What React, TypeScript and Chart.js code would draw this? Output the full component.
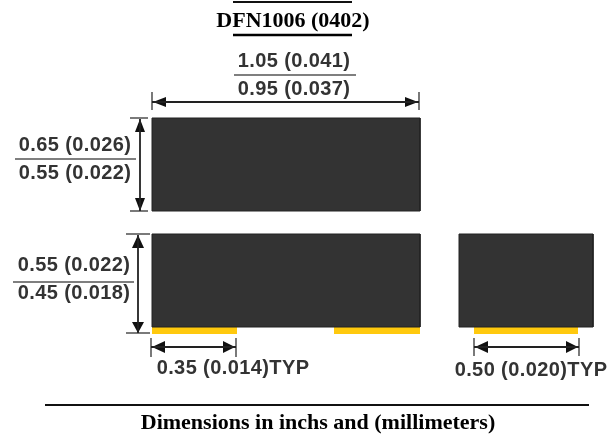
import React, { useEffect, useRef } from "react";
import { Chart, registerables } from "chart.js";

Chart.register(...registerables);

// Outline drawing, all values in drawing units (x to the right, y downwards)
type P = [number, number];
const bodies: P[][] = [
  [[152, 118], [420, 118], [420, 211], [152, 211]],
  [[152, 234], [420, 234], [420, 327], [152, 327]],
  [[459, 234], [593, 234], [593, 327], [459, 327]],
];
const pads: P[][] = [
  [[152, 327], [237, 327], [237, 334], [152, 334]],
  [[334, 327], [420, 327], [420, 334], [334, 334]],
  [[474, 326], [578, 326], [578, 334], [474, 334]],
];
const rules: P[][] = [
  [[233, 2], [352, 2]],
  [[45, 405], [589, 405]],
];
const thickRule: P[][] = [[[233, 35], [352, 35]]];
const fractionBars: P[][] = [
  [[234, 75], [356, 75]],
  [[15, 159], [136, 159]],
  [[13, 282], [134, 282]],
];
const dimLines: P[][] = [
  [[152, 102], [419, 102]],
  [[140, 119], [140, 211]],
  [[138, 235], [138, 333]],
  [[151, 347], [236, 347]],
  [[474, 347], [579, 347]],
];
const extLines: P[][] = [
  [[152, 92], [152, 110]],
  [[419, 92], [419, 110]],
  [[130, 118], [148, 118]],
  [[130, 211], [148, 211]],
  [[126, 234], [150, 234]],
  [[126, 333], [150, 333]],
  [[151, 338], [151, 357]],
  [[236, 338], [236, 357]],
  [[474, 338], [474, 356]],
  [[579, 338], [579, 356]],
];
const heads: P[][] = [
  [[153, 102], [166, 97], [166, 107]],
  [[418, 102], [405, 97], [405, 107]],
  [[140, 119], [135, 132], [145, 132]],
  [[140, 211], [135, 198], [145, 198]],
  [[138, 235], [132, 248], [144, 248]],
  [[138, 333], [132, 322], [144, 322]],
  [[152, 347], [165, 341], [165, 353]],
  [[235, 347], [223, 341], [223, 353]],
  [[475, 347], [488, 341], [488, 353]],
  [[578, 347], [566, 341], [566, 353]],
];

const dimTexts: [string, number, number][] = [
  ["1.05 (0.041)", 294, 61],
  ["0.95 (0.037)", 294, 89],
  ["0.65 (0.026)", 75, 145],
  ["0.55 (0.022)", 75, 173],
  ["0.55 (0.022)", 74, 265],
  ["0.45 (0.018)", 74, 293],
  ["0.35 (0.014)TYP", 233, 368],
  ["0.50 (0.020)TYP", 531, 370],
];
const captions: [string, number, number, number][] = [
  ["DFN1006 (0402)", 293, 21, 22],
  ["Dimensions in inchs and (millimeters)", 318, 423, 22],
];

const toPts = (s: P[]) => s.map(([x, y]) => ({ x, y }));
const shape = (s: P[], color: string, border = color, bw = 0) => ({
  data: toPts([...s, s[0]]),
  showLine: true,
  fill: "shape",
  backgroundColor: color,
  borderColor: border,
  borderWidth: bw,
  borderJoinStyle: "miter",
  pointRadius: 0,
  tension: 0,
});
const line = (s: P[], color: string, w: number) => ({
  data: toPts(s),
  showLine: true,
  fill: false,
  borderColor: color,
  borderWidth: w,
  pointRadius: 0,
  tension: 0,
});

const labelsPlugin = {
  id: "drawingLabels",
  afterDatasetsDraw(chart: any) {
    const { ctx, scales } = chart;
    ctx.save();
    ctx.textAlign = "center";
    ctx.textBaseline = "middle";
    ctx.fillStyle = "#333333";
    ctx.font = "bold 20px 'Liberation Sans'";
    ctx.letterSpacing = "0.4px";
    dimTexts.forEach(([t, x, y]) =>
      ctx.fillText(t, scales.x.getPixelForValue(x), scales.y.getPixelForValue(y))
    );
    ctx.letterSpacing = "0px";
    ctx.fillStyle = "#000000";
    captions.forEach(([t, x, y, size]) => {
      ctx.font = `bold ${size}px 'Liberation Serif'`;
      ctx.fillText(t, scales.x.getPixelForValue(x), scales.y.getPixelForValue(y));
    });
    ctx.restore();
  },
};

export default function App() {
  const ref = useRef<HTMLCanvasElement>(null);
  useEffect(() => {
    const chart = new Chart(ref.current!, {
      type: "scatter",
      data: {
        datasets: [
          ...bodies.map((s) => shape(s, "#333333", "#222222", 1)),
          ...pads.map((s) => shape(s, "#ffc90e")),
          ...rules.map((s) => line(s, "#111111", 2)),
          ...thickRule.map((s) => line(s, "#000000", 2.5)),
          ...fractionBars.map((s) => line(s, "#555555", 1.5)),
          ...dimLines.map((s) => line(s, "#222222", 1.8)),
          ...extLines.map((s) => line(s, "#222222", 1.2)),
          ...heads.map((s) => shape(s, "#111111")),
        ] as any,
      },
      options: {
        animation: false,
        responsive: false,
        devicePixelRatio: 1,
        layout: { padding: 0 },
        plugins: { legend: { display: false }, tooltip: { enabled: false } },
        scales: {
          x: { type: "linear", min: 0, max: 615, display: false },
          y: { type: "linear", min: 0, max: 437, reverse: true, display: false },
        },
      },
      plugins: [labelsPlugin],
    } as any);
    return () => chart.destroy();
  }, []);
  return (
    <canvas
      ref={ref}
      width={615}
      height={437}
      style={{ position: "fixed", left: 0, top: 0, background: "#ffffff" }}
    />
  );
}
